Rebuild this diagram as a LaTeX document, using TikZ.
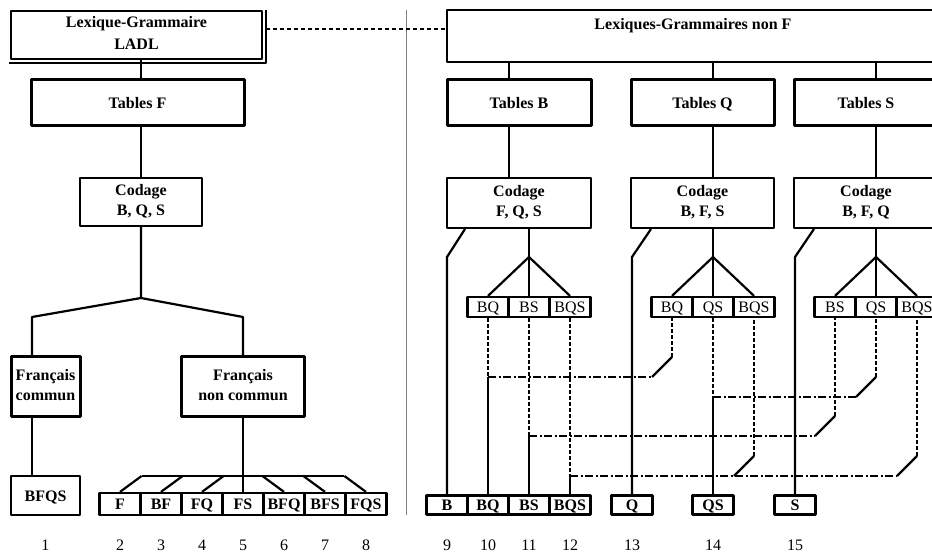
\documentclass[tikz,border=0pt]{standalone}
\usepackage{fontspec}
\setmainfont{Liberation Serif}
\usetikzlibrary{calc}
\newcommand\diagfont{\fontsize{16}{20}\selectfont}
\begin{document}
\begin{tikzpicture}[x=1pt, y=-1pt, line join=round, font=\diagfont]
		\tikzset{oneline/.style={text height=11pt, text depth=0pt},
			bigbox/.style={draw, line width=3pt, align=center, inner sep=0pt, text depth=4pt, font=\diagfont\bfseries},
			codebox/.style={draw, line width=2pt, align=center, inner sep=0pt, text depth=4pt, font=\diagfont\bfseries},
			cell/.style={draw, line width=2.2pt, minimum width=41pt, minimum height=20pt, inner sep=0pt, oneline, font=\diagfont\bfseries},
			subcell/.style={cell, font=\diagfont},
			link/.style={line width=2.2pt},
			vdash/.style={line width=2.2pt, dash pattern=on 4pt off 2pt},
			hdash/.style={line width=2.2pt, dash pattern=on 8pt off 2.5pt on 2pt off 2.5pt}}
		\useasboundingbox (0,0) rectangle (932,553);
		\clip (0,0) rectangle (932,553);
		% left part: French tables
		\node[bigbox, line width=2.4pt, minimum width=251pt, minimum height=48pt, font=\fontsize{16}{22}\selectfont\bfseries] (ladl) at (136.5,35) {Lexique-Grammaire\\LADL};
		\draw[line width=1.6pt] ([xshift=-1pt,yshift=-3pt]ladl.south west) -- ([xshift=3pt,yshift=-3pt]ladl.south east) -- ([xshift=3pt]ladl.north east);
		\node[bigbox, oneline, minimum width=213pt, minimum height=46pt] (tabF) at (137.5,103) {Tables F};
		\node[codebox, minimum width=122pt, minimum height=48pt] (codF) at (141,202) {Codage\\B, Q, S};
		\draw[link] (codF.north |- ladl.south) -- (codF.north |- tabF.north);
		\draw[link] (codF.north |- tabF.south) -- (codF.north);
		\coordinate (splitF) at (141,298);
		\coordinate (armL) at (32,317);
		\coordinate (armR) at (243,317);
		\node[bigbox, minimum width=69pt, minimum height=59pt] (frc) at (45.5,386.5) {Français\\commun};
		\node[bigbox, minimum width=123pt, minimum height=59pt] (frnc) at (243,386.5) {Français\\non commun};
		\draw[link] (codF.south) -- (splitF) -- (armL) -- (armL |- frc.north);
		\draw[link] (splitF) -- (armR) -- (frnc.north);
		\node[bigbox, oneline, line width=2.4pt, minimum width=69pt, minimum height=39pt] (c1) at (45.5,495.5) {BFQS};
		\draw[link] (armL |- frc.south) -- (armL |- c1.north);
		\foreach \t [count=\i from 2] in {F,BF,FQ,FS,BFQ,BFS,FQS}
		\node[cell, minimum height=22pt] (c\i) at ({38+41*\i},504) {\t};
		\coordinate (fanF) at (243,476);
		\draw[link] (c2.north east |- fanF) -- (c8.north west |- fanF);
		\foreach \i in {2,3,4}
		\draw[link] (c\i.north east |- fanF) -- (c\i.north);
		\foreach \i in {6,7,8}
		\draw[link] (c\i.north west |- fanF) -- (c\i.north);
		\draw[link] (frnc.south) -- (c5.north);
		% separation
		\draw[gray, line width=1pt] (406,10) -- (406,515);
		% right part: other languages
		\node[bigbox, line width=2.4pt, minimum width=492pt, minimum height=52pt] (nonF) at (693,36) {Lexiques-Grammaires non F\\\mbox{}};
		\draw[link, dash pattern=on 4pt off 3pt] ([xshift=3pt,yshift=6pt]ladl.east) -- ([yshift=7pt]nonF.west);
		\node[bigbox, oneline, minimum width=144pt, minimum height=46pt] (tabB) at (519,103) {Tables B};
		\node[bigbox, oneline, minimum width=143pt, minimum height=46pt] (tabQ) at (702.5,103) {Tables Q};
		\node[bigbox, oneline, minimum width=144pt, minimum height=46pt] (tabS) at (866,103) {Tables S};
		\node[codebox, minimum width=144pt, minimum height=50pt] (codB) at (519,203) {Codage\\F, Q, S};
		\node[codebox, minimum width=143pt, minimum height=50pt] (codQ) at (702.5,203) {Codage\\B, F, S};
		\node[codebox, minimum width=144pt, minimum height=50pt] (codS) at (866,203) {Codage\\B, F, Q};
		\coordinate (spB) at (509,0);
		\coordinate (spQ) at (713,0);
		\coordinate (spS) at (876,0);
		\foreach \s/\l in {spB/B,spQ/Q,spS/S}{
			\draw[link] (\s |- nonF.south) -- (\s |- tab\l.north);
			\draw[link] (\s |- tab\l.south) -- (\s |- cod\l.north);
		}
		\coordinate (apB) at (529,257);
		\coordinate (apQ) at (713,257);
		\coordinate (apS) at (876,257);
		\foreach \t/\n [count=\i] in {BQ/bqB,BS/bsB,BQS/bqsB}
		\node[subcell] (\n) at ({447+41*\i},307) {\t};
		\foreach \t/\n [count=\i] in {BQ/bqQ,QS/qsQ,BQS/bqsQ}
		\node[subcell] (\n) at ({631+41*\i},307) {\t};
		\foreach \t/\n [count=\i] in {BS/bsS,QS/qsS,BQS/bqsS}
		\node[subcell] (\n) at ({794+41*\i},307) {\t};
		\foreach \l/\a/\b/\c in {B/bqB/bsB/bqsB,Q/bqQ/qsQ/bqsQ,S/bsS/qsS/bqsS}{
			\draw[link] (ap\l |- cod\l.south) -- (ap\l);
			\draw[link] (\a.north) -- (ap\l) -- (\c.north);
			\draw[link] (ap\l) -- (\b.north);
		}
		\foreach \t [count=\i from 9] in {B,BQ,BS,BQS}
		\node[cell, minimum height=19pt] (c\i) at ({447+41*(\i-9)},505) {\t};
		\node[cell, minimum height=19pt] (c13) at (632,505) {Q};
		\node[cell, minimum height=19pt] (c14) at (713,505) {QS};
		\node[cell, minimum height=19pt] (c15) at (795,505) {S};
		\draw[link] (c9.north) -- (c9.north |- apB) -- ($(c9.north |- codB.south)+(18,0)$);
		\draw[link] (c13.north) -- (c13.north |- apQ) -- ($(c13.north |- codQ.south)+(19,0)$);
		\draw[link] (c15.north) -- (c15.north |- apS) -- ($(c15.north |- codS.south)+(19,0)$);
		% shared codes
		\coordinate (h1) at (0,377);
		\coordinate (h2) at (0,397);
		\coordinate (h3) at (0,436);
		\coordinate (h4) at (0,476);
		\foreach \up/\down/\lev in {bqB/c10/h1,qsQ/c14/h2,bsB/c11/h3,bqsB/c12/h4}{
			\draw[vdash] (\up.south) -- (\up.south |- \lev);
			\draw[link] (\up.south |- \lev) -- (\down.north);
		}
		\foreach \up/\down/\lev in {bqQ/c10/h1,qsS/c14/h2,bsS/c11/h3,bqsQ/c12/h4,bqsS/c12/h4}{
			\draw[hdash] (\down.north |- \lev) -- ($(\up.south |- \lev)+(-20,0)$);
			\draw[link] ($(\up.south |- \lev)+(-20,0)$) -- ($(\up.south |- \lev)+(0,-20)$);
			\draw[vdash] ($(\up.south |- \lev)+(0,-20)$) -- (\up.south);
		}
		% numbering
		\coordinate (numrow) at (0,545);
		\foreach \i in {1,...,15}
		\node (n\i) at (c\i |- numrow) {\i};
\end{tikzpicture}
\end{document}
